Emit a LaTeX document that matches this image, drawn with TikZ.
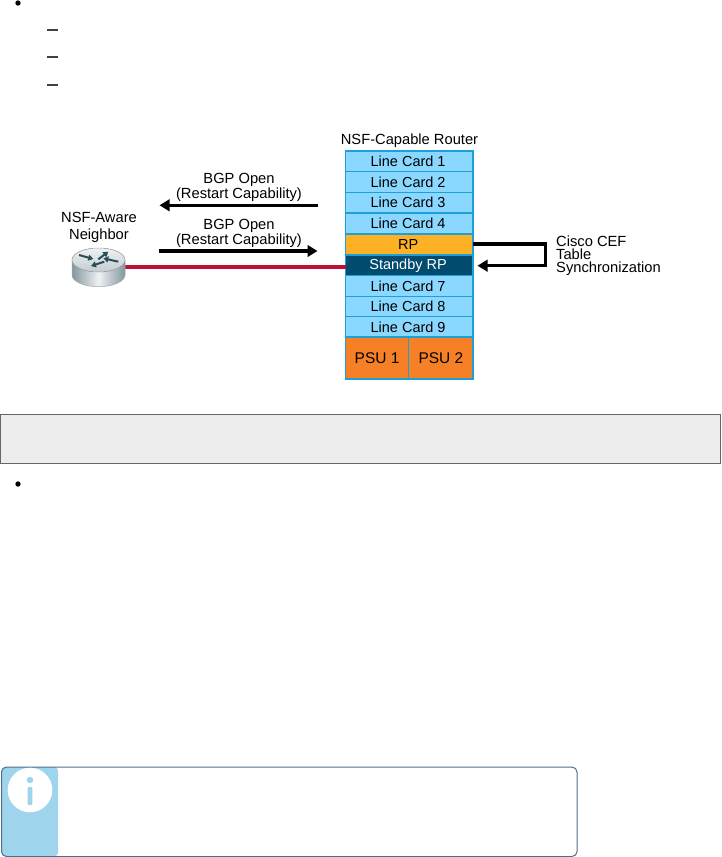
\documentclass[tikz,border=0pt]{standalone}
\usepackage{fontspec}
\setmainfont{Liberation Sans}
\usetikzlibrary{arrows.meta}
\definecolor{cardblue}{HTML}{8AD8FF}
\definecolor{cardedge}{HTML}{1E9FD8}
\definecolor{rpyel}{HTML}{FDB225}
\definecolor{stby}{HTML}{004B6E}
\definecolor{psu}{HTML}{F58025}
\definecolor{redline}{HTML}{BE0F34}
\definecolor{panel}{HTML}{9FD5EC}
\definecolor{infoedge}{HTML}{4F6F8F}
\definecolor{rtrdark}{HTML}{8496A0}
\definecolor{rtrlight}{HTML}{EEF2F3}
\definecolor{rtrtop}{HTML}{C2CCD1}
\definecolor{rtrarrow}{HTML}{2A4C58}
\tikzset{
  x=1pt,y=-1pt,
  lbl/.style={font=\fontsize{14.7}{13.5}\selectfont,text=black,inner sep=0pt,align=center},
  cell/.style={draw=cardedge,line width=1.5pt,inner sep=0pt,outer sep=0pt,anchor=north west,font=\fontsize{14.5}{14.5}\selectfont},
  card/.style={cell,fill=cardblue,minimum width=127.7pt,minimum height=20.7pt,execute at end node=\hspace{2.5pt}},
  psucell/.style={cell,fill=psu,minimum height=42pt,font=\fontsize{15.5}{15.5}\selectfont},
  heavy/.style={line width=3.2pt,draw=black},
  tip/.style={-{Triangle[length=10pt,width=11.5pt]}},
  rarrow/.style={line width=2pt,draw=rtrarrow,-{Triangle[length=5pt,width=6pt]}},
  bullet/.style={circle,fill=black,inner sep=0pt,outer sep=0pt,minimum size=5.4pt},
  dashmark/.style={fill=black!75,inner sep=0pt,outer sep=0pt,minimum width=10.6pt,minimum height=1.6pt}
}
\begin{document}
\begin{tikzpicture}
\useasboundingbox (0,0) rectangle (721,857);
% list marks
\node[bullet] (b1) at (18,3) {};
\node[dashmark] (d1) at (52.5,29.7) {};
\node[dashmark] (d2) at (52.5,56.7) {};
\node[dashmark] (d3) at (52.5,84.7) {};
% router stack
\node[lbl] (title) at (409.5,140.5) {NSF-Capable Router};
\node[card] (c1) at (345.5,151) {Line Card 1};
\node[card] (c2) at (345.5,171.7) {Line Card 2};
\node[card] (c3) at (345.5,192.3) {Line Card 3};
\node[card] (c4) at (345.5,213.2) {Line Card 4};
\node[card,fill=rpyel] (rp) at (345.5,234) {RP};
\node[card,fill=stby,text=white] (srp) at (345.5,255) {Standby RP};
\node[card] (c7) at (345.5,275.7) {Line Card 7};
\node[card] (c8) at (345.5,296.3) {Line Card 8};
\node[card] (c9) at (345.5,316.7) {Line Card 9};
\node[psucell,minimum width=63.2pt] (p1) at (345.5,337) {PSU 1};
\node[psucell,minimum width=64.5pt] (p2) at (408.7,337) {PSU 2};
% sync loop
\coordinate (s1) at (545.7,244);
\coordinate (s2) at (545.7,265.7);
\coordinate (s3) at (477.5,265.7);
\draw[heavy,tip] (rp.east |- s1) -- (s1) -- (s2) -- (s3);
\node[lbl,align=left,anchor=north west,font=\fontsize{14.7}{13.3}\selectfont] (sync) at (556,235.2) {Cisco CEF\\Table\\Synchronization};
% neighbor
\node[lbl,font=\fontsize{14.7}{17.7}\selectfont] (nsf) at (99,227.5) {NSF-Aware\\Neighbor};
\coordinate (routerE) at (124,267);
\draw[redline,line width=3.3pt] (routerE) -- (srp.west |- routerE);
% router icon
\path[left color=rtrdark,right color=rtrdark,middle color=rtrlight] (72,260) -- (72,275) arc[start angle=180,end angle=0,x radius=26.5,y radius=11.7] -- (125,260) -- cycle;
\draw[black!35,line width=.5pt] (72,260) -- (72,275) arc[start angle=180,end angle=0,x radius=26.5,y radius=11.7] -- (125,260);
\fill[top color=rtrlight,bottom color=rtrtop,draw=black!35,line width=.5pt] (98.5,260) ellipse[x radius=26.5,y radius=12];
\coordinate (r1a) at (79,255); \coordinate (r1b) at (93.3,259);
\coordinate (r2a) at (98.3,259.3); \coordinate (r2b) at (108.3,251.7);
\coordinate (r3a) at (118.3,261.7); \coordinate (r3b) at (103.3,258.3);
\coordinate (r4a) at (104.3,261.7); \coordinate (r4b) at (91,266);
\draw[rarrow] (r1a) -- (r1b);
\draw[rarrow] (r2a) -- (r2b);
\draw[rarrow] (r3a) -- (r3b);
\draw[rarrow] (r4a) -- (r4b);
% BGP arrows
\node[lbl] (o1) at (239,187.5) {BGP Open\\(Restart Capability)};
\node[lbl] (o2) at (239,233.5) {BGP Open\\(Restart Capability)};
\coordinate (a1s) at (318,205.3); \coordinate (a1e) at (159.5,205.3);
\coordinate (a2s) at (158.7,251); \coordinate (a2e) at (317.5,251);
\draw[heavy,tip] (a1s) -- (a1e);
\draw[heavy,tip] (a2s) -- (a2e);
% grey box
\node[draw=black!60,fill=black!7,line width=1.3pt,anchor=north west,outer sep=0pt,minimum width=720pt,minimum height=49pt,inner sep=0pt] (grey) at (0.8,414.7) {};
\node[bullet] (b2) at (18,484) {};
% info box
\fill[panel,rounded corners=4pt] (1.5,767) -- (58,767) -- (58,856.5) -- (1.5,856.5) -- cycle;
\node[draw=infoedge,line width=1pt,rounded corners=5pt,anchor=north west,outer sep=0pt,minimum width=575.5pt,minimum height=89.5pt,inner sep=0pt] (info) at (1.5,767) {};
\fill[white] (30,790) circle[radius=22.3];
\fill[panel] (30,780) circle[radius=3.2];
\fill[panel,rounded corners=1pt] (27.7,787) rectangle (32.3,805);
\end{tikzpicture}
\end{document}
